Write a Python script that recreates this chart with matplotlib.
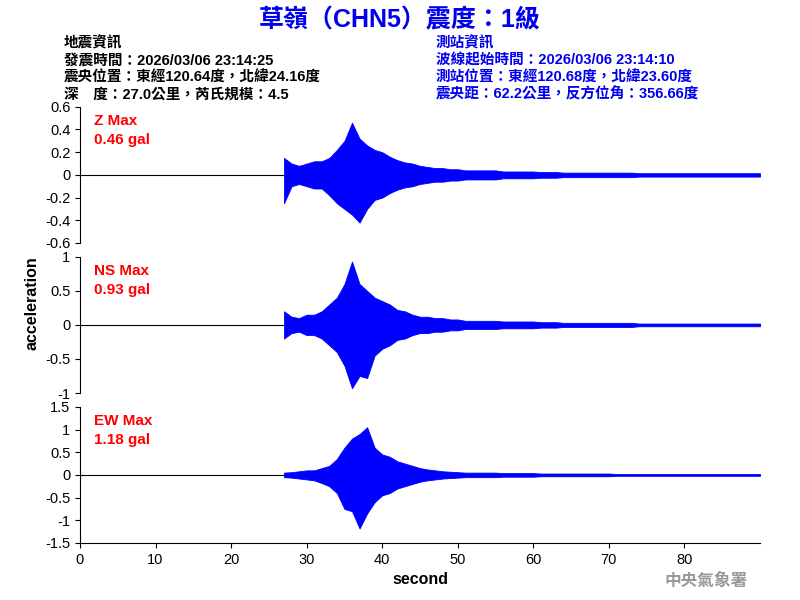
import numpy as np
import matplotlib
matplotlib.use("Agg")
import matplotlib.pyplot as plt

plt.rcParams['font.family'] = ['Liberation Sans', 'Noto Sans CJK TC', 'DejaVu Sans']

# time (s) of 1-second envelope samples
t = list(range(27, 91))
z_pos = [0.15,0.10,0.08,0.10,0.12,0.12,0.15,0.22,0.30,0.46,0.32,0.26,0.22,0.20,0.16,0.13,0.11,0.10,0.08,0.07,0.06,0.06,0.05,0.05,
         0.04,0.04,0.04,0.04,0.04,0.03,0.03,0.03,0.03,0.03,0.025,0.025,0.025,0.02,0.02,0.02,0.02,0.02,0.02,0.02,
         0.02,0.02,0.02,0.015,0.015,0.015,0.015,0.015,0.015,0.015,0.015,0.015,0.015,0.015,0.015,0.015,0.015,0.015,0.015,0.015]
z_neg = [0.25,0.10,0.08,0.10,0.12,0.12,0.18,0.25,0.30,0.35,0.42,0.30,0.22,0.20,0.16,0.13,0.11,0.10,0.08,0.07,0.06,0.06,0.05,0.05,
         0.04,0.04,0.04,0.04,0.04,0.03,0.03,0.03,0.03,0.03,0.025,0.025,0.025,0.02,0.02,0.02,0.02,0.02,0.02,0.02,
         0.02,0.02,0.02,0.015,0.015,0.015,0.015,0.015,0.015,0.015,0.015,0.015,0.015,0.015,0.015,0.015,0.015,0.015,0.015,0.015]
ns_pos = [0.20,0.12,0.10,0.15,0.15,0.20,0.30,0.40,0.60,0.93,0.60,0.50,0.40,0.35,0.30,0.22,0.20,0.15,0.12,0.12,0.10,0.10,0.08,0.08,
          0.06,0.06,0.06,0.06,0.06,0.05,0.05,0.05,0.05,0.05,0.04,0.04,0.04,0.03,0.03,0.03,0.03,0.03,0.03,0.03,
          0.03,0.03,0.03,0.02,0.02,0.02,0.02,0.02,0.02,0.02,0.02,0.02,0.02,0.02,0.02,0.02,0.02,0.02,0.02,0.02]
ns_neg = [0.20,0.12,0.10,0.15,0.15,0.20,0.30,0.40,0.60,0.93,0.75,0.78,0.45,0.35,0.30,0.22,0.20,0.15,0.12,0.12,0.10,0.10,0.08,0.08,
          0.06,0.06,0.06,0.06,0.06,0.05,0.05,0.05,0.05,0.05,0.04,0.04,0.04,0.03,0.03,0.03,0.03,0.03,0.03,0.03,
          0.03,0.03,0.03,0.02,0.02,0.02,0.02,0.02,0.02,0.02,0.02,0.02,0.02,0.02,0.02,0.02,0.02,0.02,0.02,0.02]
ew_pos = [0.05,0.06,0.08,0.10,0.10,0.15,0.20,0.35,0.60,0.80,0.90,1.05,0.60,0.45,0.40,0.30,0.25,0.20,0.15,0.12,0.10,0.08,0.07,0.06,
          0.05,0.05,0.05,0.05,0.05,0.04,0.04,0.04,0.04,0.04,0.03,0.03,0.03,0.03,0.03,0.03,0.03,0.03,0.03,0.03,
          0.02,0.02,0.02,0.02,0.02,0.02,0.02,0.02,0.02,0.02,0.02,0.02,0.02,0.02,0.02,0.02,0.02,0.02,0.02,0.02]
ew_neg = [0.05,0.06,0.08,0.10,0.12,0.18,0.25,0.40,0.75,0.80,1.18,0.85,0.60,0.45,0.40,0.30,0.25,0.20,0.15,0.12,0.10,0.08,0.07,0.06,
          0.05,0.05,0.05,0.05,0.05,0.04,0.04,0.04,0.04,0.04,0.03,0.03,0.03,0.03,0.03,0.03,0.03,0.03,0.03,0.03,
          0.02,0.02,0.02,0.02,0.02,0.02,0.02,0.02,0.02,0.02,0.02,0.02,0.02,0.02,0.02,0.02,0.02,0.02,0.02,0.02]

labels = ["Z Max\n0.46 gal", "NS Max\n0.93 gal", "EW Max\n1.18 gal"]
ylims = [0.6, 1.0, 1.5]
yticks = [[-0.6,-0.4,-0.2,0,0.2,0.4,0.6], [-1,-0.5,0,0.5,1], [-1.5,-1,-0.5,0,0.5,1,1.5]]
ytl = [["-0.6","-0.4","-0.2","0","0.2","0.4","0.6"], ["-1","-0.5","0","0.5","1"],
       ["-1.5","-1","-0.5","0","0.5","1","1.5"]]
series = [(z_pos, z_neg), (ns_pos, ns_neg), (ew_pos, ew_neg)]

fig = plt.figure(figsize=(8, 6), dpi=100)
fig.text(0.5, 0.967, "草嶺（CHN5）震度：1級", ha='center', va='center', color='#0000ee',
         fontsize=18, fontweight='bold')
left = ["地震資訊", "發震時間：2026/03/06 23:14:25", "震央位置：東經120.64度，北緯24.16度",
        "深　度：27.0公里，芮氏規模：4.5"]
right = ["測站資訊", "波線起始時間：2026/03/06 23:14:10", "測站位置：東經120.68度，北緯23.60度",
         "震央距：62.2公里，反方位角：356.66度"]
for i, (a, b) in enumerate(zip(left, right)):
    y = 0.928 - i * 0.0285
    fig.text(0.08, y, a, ha='left', va='center', fontsize=10.5, fontweight='bold', color='black')
    fig.text(0.545, y, b, ha='left', va='center', fontsize=10.5, fontweight='bold', color='#0000ee')

tops = [0.822, 0.572, 0.322]
h = 0.227
for k in range(3):
    ax = fig.add_axes([0.1, tops[k] - h, 0.85, h])
    pos, neg = series[k]
    tt = np.array(t, dtype=float)
    ax.fill_between(tt, np.array(pos), -np.array(neg), color='blue', lw=0.6)
    ax.axhline(0, color='black', lw=0.8, zorder=0)
    ax.plot(tt, np.zeros_like(tt), color='blue', lw=0.8)
    ax.set_xlim(0, 90)
    ax.set_ylim(-ylims[k], ylims[k])
    ax.set_yticks(yticks[k])
    ax.set_yticklabels(ytl[k], fontsize=10.5)
    for s in ['top', 'right']:
        ax.spines[s].set_visible(False)
    if k < 2:
        ax.spines['bottom'].set_visible(False)
        ax.set_xticks([])
    else:
        ax.set_xticks([0,10,20,30,40,50,60,70,80])
        ax.tick_params(axis='x', labelsize=10.5)
        ax.set_xlabel("second", fontsize=11.5, fontweight='bold')
    ax.text(0.02, 0.95, labels[k], transform=ax.transAxes, ha='left', va='top',
            color='red', fontsize=11, fontweight='bold', linespacing=1.5)

fig.text(0.04, 0.495, "acceleration", rotation=90, ha='center', va='center',
         fontsize=11.5, fontweight='bold')
fig.text(0.935, 0.032, "中央氣象署", ha='right', va='center', color='#999999',
         fontsize=12, fontweight='bold')
fig.savefig("out.png", dpi=100)
